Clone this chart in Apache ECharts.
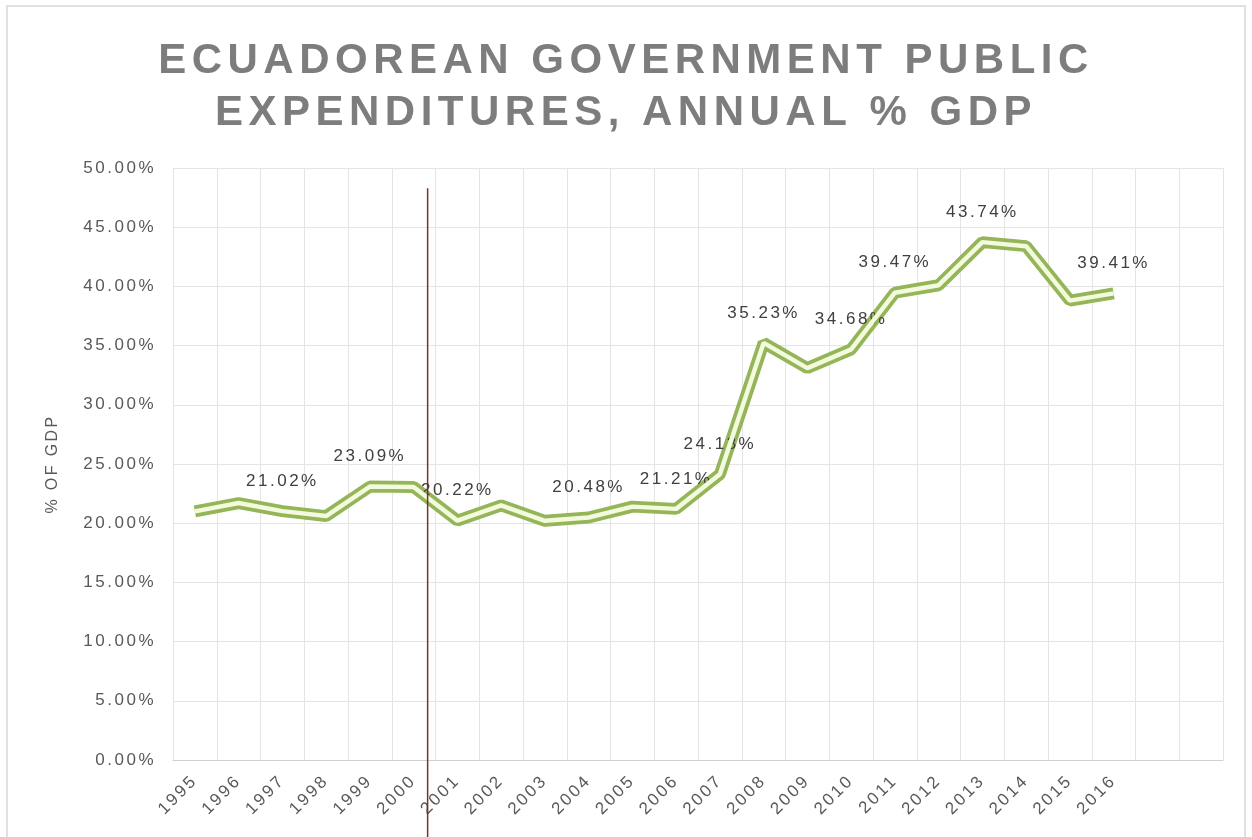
<!DOCTYPE html>
<html>
<head>
<meta charset="utf-8">
<title>Ecuadorean government public expenditures</title>
<script src="https://cdn.jsdelivr.net/npm/echarts@6/dist/echarts.min.js"></script>
<style>
  html, body { margin: 0; padding: 0; background: #fff; }
  #frame { position: absolute; left: 6px; top: 5px; width: 1236px; height: 860px; border: 2px solid #e0e0e0; }
  #main { position: absolute; left: 0; top: 0; width: 1252px; height: 837px; }
</style>
</head>
<body>
<div id="frame"></div>
<div id="main"></div>
<script>
// years on the axis (two empty slots at the end, like the original sheet)
const years = ['1995', '1996', '1997', '1998', '1999', '2000', '2001', '2002', '2003', '2004', '2005',
  '2006', '2007', '2008', '2009', '2010', '2011', '2012', '2013', '2014', '2015', '2016', '', ''];
// public expenditures, % of GDP
const spending = [21.0, 21.7, 21.02, 20.6, 23.09, 23.05, 20.22, 21.5, 20.2, 20.48, 21.4,
  21.21, 24.13, 35.23, 33.1, 34.68, 39.47, 40.1, 43.74, 43.4, 38.8, 39.41];
// years that carry a data label
const labelledYears = ['1997', '1999', '2001', '2004', '2006', '2007', '2008', '2010', '2011', '2013', '2016'];
// the dark red marker between 2000 and 2001 (category index, % GDP)
const dividerX = [5.32, 5.32];
const dividerY = [48.3, -7];

// Excel draws this chart with expanded character spacing; zrender has no option for it
const baseFillText = CanvasRenderingContext2D.prototype.fillText;
CanvasRenderingContext2D.prototype.fillText = function (text, x, y, maxWidth) {
  const m = /(\d+(?:\.\d+)?)px/.exec(this.font);
  const size = m ? parseFloat(m[1]) : 0;
  this.letterSpacing = (size * (size > 30 ? 0.13 : 0.15)).toFixed(1) + 'px';
  if (maxWidth === undefined) return baseFillText.call(this, text, x, y);
  return baseFillText.call(this, text, x, y, maxWidth);
};

const pct = v => v.toFixed(2) + '%';
const font = 'Liberation Sans, Arial, sans-serif';

const lineData = spending.map((v, i) => ({
  value: v,
  label: { show: labelledYears.indexOf(years[i]) >= 0 }
}));

const chart = echarts.init(document.getElementById('main'), null, { renderer: 'canvas' });

const option = {
  backgroundColor: 'transparent',
  animation: false,
  title: {
    text: 'ECUADOREAN GOVERNMENT PUBLIC\nEXPENDITURES, ANNUAL % GDP',
    left: 'center',
    top: 30,
    textStyle: {
      fontFamily: font,
      fontSize: 42,
      fontWeight: 'bold',
      color: '#7d7d7d',
      lineHeight: 52
    }
  },
  grid: { left: 173, right: 29, top: 168, bottom: 77 },
  xAxis: [{
    type: 'category',
    data: years,
    boundaryGap: true,
    axisLine: { lineStyle: { color: '#d0d0d0' } },
    axisTick: { show: false },
    splitLine: { show: true, lineStyle: { color: '#e4e4e4' } },
    axisLabel: {
      interval: 0,
      rotate: 45,
      margin: 18,
      fontFamily: font,
      fontSize: 17,
      color: '#595959'
    }
  }, {
    type: 'value',
    min: -0.5,
    max: 23.5,
    show: false
  }],
  yAxis: {
    type: 'value',
    min: 0,
    max: 50,
    interval: 5,
    name: '% OF GDP',
    nameLocation: 'middle',
    nameGap: 112,
    nameTextStyle: { fontFamily: font, fontSize: 16, color: '#595959' },
    axisLine: { show: false },
    axisTick: { show: false },
    splitLine: { lineStyle: { color: '#e4e4e4' } },
    axisLabel: {
      formatter: pct,
      margin: 17,
      fontFamily: font,
      fontSize: 17,
      color: '#595959'
    }
  },
  series: [{
    // outer green stroke of the double line
    type: 'line',
    data: lineData,
    symbol: 'circle',
    symbolSize: 1,
    itemStyle: { color: 'rgba(0,0,0,0)' },
    lineStyle: { color: '#94b658', width: 12 },
    label: {
      position: 'top',
      distance: 21,
      formatter: p => pct(p.value),
      fontFamily: font,
      fontSize: 17,
      color: '#404040'
    },
    z: 2
  }, {
    // pale centre of the double line
    type: 'line',
    data: spending,
    symbol: 'none',
    silent: true,
    lineStyle: { color: '#f3fadd', width: 4.5 },
    z: 3
  }, {
    type: 'line',
    xAxisIndex: 1,
    data: dividerX.map((x, i) => [x, dividerY[i]]),
    symbol: 'none',
    clip: false,
    silent: true,
    lineStyle: { color: '#7a3030', width: 1.5 },
    z: 4
  }]
};

chart.setOption(option);
</script>
</body>
</html>
